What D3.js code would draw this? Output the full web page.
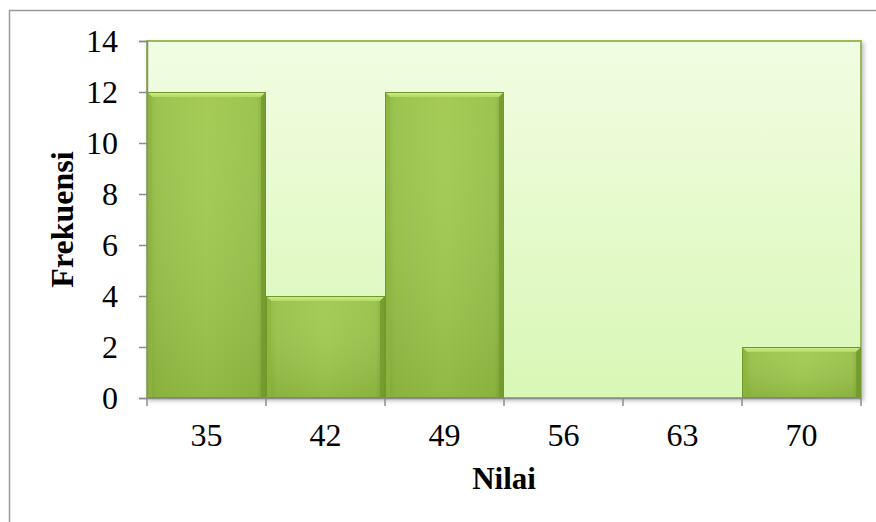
<!DOCTYPE html>
<html>
<head>
<meta charset="utf-8">
<script src="https://cdn.jsdelivr.net/npm/d3@7/dist/d3.min.js"></script>
<style>
  html, body { margin: 0; padding: 0; background: #fff; }
  svg { display: block; }
  svg text { font-family: "Liberation Serif", "Times New Roman", serif; }
</style>
</head>
<body>
<svg id="chart" width="876" height="522"></svg>
<script>
// Frequency histogram of scores
const categories = ["35", "42", "49", "56", "63", "70"];
const frequencies = [12, 4, 12, 0, 0, 2];
const yTicks = [0, 2, 4, 6, 8, 10, 12, 14];

const svg = d3.select("#chart");
const W = 876, H = 522;
const plot = { left: 147, top: 41, right: 861, bottom: 398 };
const FONT = "'Liberation Serif', 'Times New Roman', serif";

const defs = svg.append("defs");

// plot background: pale green fading slightly darker toward the bottom
const bg = defs.append("linearGradient").attr("id", "bgGrad")
  .attr("x1", 0).attr("y1", 0).attr("x2", 0).attr("y2", 1);
bg.append("stop").attr("offset", "0%").attr("stop-color", "#f1fde3");
bg.append("stop").attr("offset", "100%").attr("stop-color", "#d9f7b5");

// bar body: darker at both sides, brighter in the middle
const barG = defs.append("linearGradient").attr("id", "barGrad")
  .attr("x1", 0).attr("y1", 0).attr("x2", 1).attr("y2", 0);
barG.append("stop").attr("offset", "0%").attr("stop-color", "#86ae38");
barG.append("stop").attr("offset", "8%").attr("stop-color", "#97c046");
barG.append("stop").attr("offset", "50%").attr("stop-color", "#a0c94d");
barG.append("stop").attr("offset", "92%").attr("stop-color", "#97c046");
barG.append("stop").attr("offset", "100%").attr("stop-color", "#7ea233");

const barV = defs.append("linearGradient").attr("id", "barShade")
  .attr("x1", 0).attr("y1", 0).attr("x2", 0).attr("y2", 1);
barV.append("stop").attr("offset", "0%").attr("stop-color", "#ffffff").attr("stop-opacity", 0.05);
barV.append("stop").attr("offset", "100%").attr("stop-color", "#4e6e1a").attr("stop-opacity", 0.18);

const topG = defs.append("linearGradient").attr("id", "topGrad")
  .attr("x1", 0).attr("y1", 0).attr("x2", 0).attr("y2", 1);
topG.append("stop").attr("offset", "0%").attr("stop-color", "#d3ee8f");
topG.append("stop").attr("offset", "100%").attr("stop-color", "#b3d963");

const shadow = defs.append("filter").attr("id", "shadow")
  .attr("x", "-5%").attr("y", "-5%").attr("width", "115%").attr("height", "115%");
shadow.append("feDropShadow").attr("dx", 2).attr("dy", 2).attr("stdDeviation", 2)
  .attr("flood-color", "#000").attr("flood-opacity", 0.25);

// outer chart frame
svg.append("path")
  .attr("d", `M9.5,${H} V10.5 H${W}`)
  .attr("fill", "none").attr("stroke", "#9a9a9a").attr("stroke-width", 1.5);

const x = d3.scaleBand().domain(categories)
  .range([plot.left, plot.right]).paddingInner(0).paddingOuter(0);
const y = d3.scaleLinear().domain([0, 14]).range([plot.bottom, plot.top]);

// plot area
svg.append("rect")
  .attr("x", plot.left).attr("y", plot.top)
  .attr("width", plot.right - plot.left).attr("height", plot.bottom - plot.top)
  .attr("fill", "url(#bgGrad)").attr("stroke", "#9bbb59").attr("stroke-width", 2)
  .attr("filter", "url(#shadow)");

// bars
const data = categories.map((c, i) => ({ c, v: frequencies[i] }));
const bars = svg.append("g").selectAll("g").data(data.filter(d => d.v > 0)).join("g");
const bev = 5;
bars.append("rect")
  .attr("x", d => x(d.c)).attr("y", d => y(d.v))
  .attr("width", x.bandwidth()).attr("height", d => y(0) - y(d.v))
  .attr("fill", "url(#barGrad)");
bars.append("rect")
  .attr("x", d => x(d.c)).attr("y", d => y(d.v))
  .attr("width", x.bandwidth()).attr("height", d => y(0) - y(d.v))
  .attr("fill", "url(#barShade)");
// bevelled top edge
bars.append("path")
  .attr("d", d => {
    const x0 = x(d.c), x1 = x0 + x.bandwidth(), y0 = y(d.v);
    return `M${x0},${y0} H${x1} L${x1 - bev},${y0 + bev} H${x0 + bev} Z`;
  })
  .attr("fill", "url(#topGrad)");
// left and right bevel faces
bars.append("path")
  .attr("d", d => {
    const x0 = x(d.c), y0 = y(d.v), yb = y(0);
    return `M${x0},${y0} L${x0 + bev},${y0 + bev} V${yb} H${x0} Z`;
  })
  .attr("fill", "#8db63e").attr("opacity", 0.7);
bars.append("path")
  .attr("d", d => {
    const x1 = x(d.c) + x.bandwidth(), y0 = y(d.v), yb = y(0);
    return `M${x1},${y0} L${x1 - bev},${y0 + bev} V${yb} H${x1} Z`;
  })
  .attr("fill", "#739a2c").attr("opacity", 0.8);
bars.append("rect")
  .attr("x", d => x(d.c) + 0.5).attr("y", d => y(d.v) + 0.5)
  .attr("width", x.bandwidth() - 1).attr("height", d => y(0) - y(d.v) - 1)
  .attr("fill", "none").attr("stroke", "#6f9a2a").attr("stroke-width", 1);

// axes
const axisColor = "#8c8c8c";
const yAxis = svg.append("g").attr("transform", `translate(${plot.left},0)`)
  .call(d3.axisLeft(y).tickValues(yTicks).tickSize(8).tickPadding(21));
const xAxis = svg.append("g").attr("transform", `translate(0,${plot.bottom})`)
  .call(d3.axisBottom(x).tickSize(0));

[yAxis, xAxis].forEach(g => {
  g.attr("font-family", null).attr("font-size", null);
  g.select(".domain").attr("stroke", axisColor).attr("stroke-width", 1.5);
  g.selectAll(".tick line").attr("stroke", axisColor).attr("stroke-width", 1.5);
  g.selectAll("text").style("font-family", FONT)
    .style("font-size", "32px").attr("fill", "#000");
});
yAxis.selectAll("text").attr("dy", "0.34em");
xAxis.selectAll("text").attr("y", 48).attr("dy", 0);

// x tick marks at bin boundaries
const bounds = d3.range(categories.length + 1).map(i => plot.left + i * x.bandwidth());
svg.append("g").selectAll("line").data(bounds).join("line")
  .attr("x1", d => d).attr("x2", d => d)
  .attr("y1", plot.bottom).attr("y2", plot.bottom + 8)
  .attr("stroke", axisColor).attr("stroke-width", 1.5);

// axis titles
svg.append("text")
  .attr("x", (plot.left + plot.right) / 2).attr("y", 489)
  .attr("text-anchor", "middle")
  .style("font-family", FONT).style("font-weight", "bold").style("font-size", "31px")
  .text("Nilai");
svg.append("text")
  .attr("transform", `translate(73,${(plot.top + plot.bottom) / 2}) rotate(-90)`)
  .attr("text-anchor", "middle")
  .style("font-family", FONT).style("font-weight", "bold").style("font-size", "32px")
  .text("Frekuensi");
</script>
</body>
</html>
